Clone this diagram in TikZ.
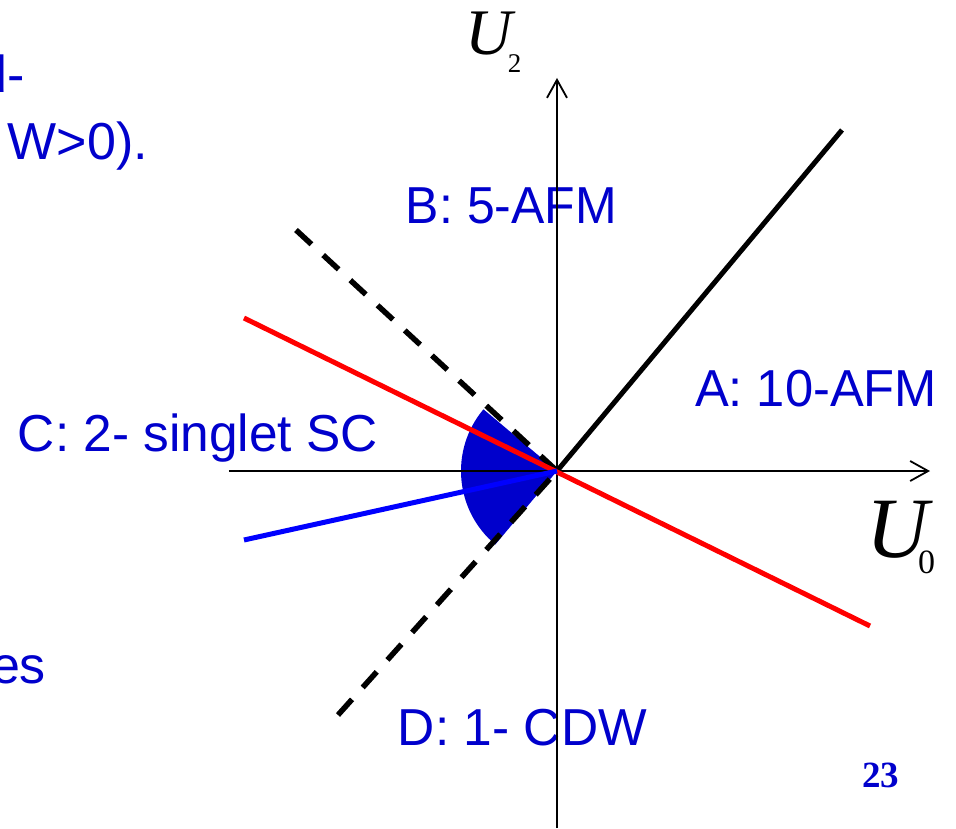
\documentclass[tikz,border=0pt]{standalone}
\usepackage{fontspec}
\setmainfont{Liberation Serif}
\newfontfamily\lblfont{Liberation Sans}
\usetikzlibrary{arrows.meta}
\definecolor{tblue}{RGB}{0,0,204}
\definecolor{lblue}{RGB}{0,0,255}
\definecolor{lred}{RGB}{255,0,0}
\newcommand{\fitw}[2]{\resizebox{#1}{\height}{#2}}
\begin{document}
\begin{tikzpicture}[x=1pt,y=1pt,
  lbl/.style={inner sep=0pt, outer sep=0pt, text=tblue, font=\lblfont\fontsize{52}{60}\selectfont},
  axisline/.style={line width=1.8pt, -{Straight Barb[length=18pt,width=20pt]}},
  solidline/.style={line width=5pt},
  dashline/.style={line width=5.5pt, dash pattern=on 21pt off 16pt},
  axlabel/.style={inner sep=0pt, outer sep=0pt, anchor=base west}]
\useasboundingbox (-557,-357) rectangle (399,471);
\clip (-557,-357) rectangle (399,471);
\coordinate (O) at (0,0);
% sector
\fill[tblue] (O) -- (140:96) arc[start angle=140, end angle=230, radius=96] -- cycle;
% labels
\node[lbl, anchor=base west] (B) at (-151,247) {\fitw{211pt}{B: 5-AFM}};
\node[lbl, anchor=base west] (A) at (138,65) {\fitw{242pt}{A: 10-AFM}};
\node[lbl, anchor=base west] (C) at (-539,20) {\fitw{360pt}{C: 2- singlet SC}};
\node[lbl, anchor=base west] (D) at (-159,-274) {\fitw{249pt}{D: 1- CDW}};
\node[lbl, anchor=base east] (t1) at (-532,378) {d-};
\node[lbl, anchor=base east] (t2) at (-409,311) {W>0).};
\node[lbl, anchor=base east] (t3) at (-511,-212) {es};
\node[axlabel] (U2) at (-91,416) {\fontsize{65}{70}\selectfont\itshape U\kern-5pt\raisebox{-18pt}{\upshape\fontsize{27}{30}\selectfont 2}};
\node[axlabel] (U0) at (309,-86) {\fontsize{86}{90}\selectfont\itshape U\kern-10pt\raisebox{-16pt}{\upshape\fontsize{34}{36}\selectfont 0}};
\node[axlabel, text=tblue] (pg) at (305,-316) {\fontsize{37}{40}\selectfont\bfseries 23};
% axes
\coordinate (xl) at (-328,0);
\coordinate (xr) at (373,0);
\coordinate (yb) at (0,-357);
\coordinate (yt) at (0,393);
\draw[axisline] (xl) -- (xr);
\draw[axisline] (yb) -- (yt);
% lines
\coordinate (du) at (-261,241);
\coordinate (dl) at (-219,-244);
\coordinate (bk) at (285,341);
\coordinate (rl) at (-313,153);
\coordinate (rr) at (313,-155);
\coordinate (bl) at (-313,-69);
\draw[dashline] (du) -- (O);
\draw[dashline] (dl) -- (O);
\draw[solidline] (O) -- (bk);
\draw[solidline, lred] (rl) -- (rr);
\draw[solidline, lblue] (bl) -- (O);
\end{tikzpicture}
\end{document}
